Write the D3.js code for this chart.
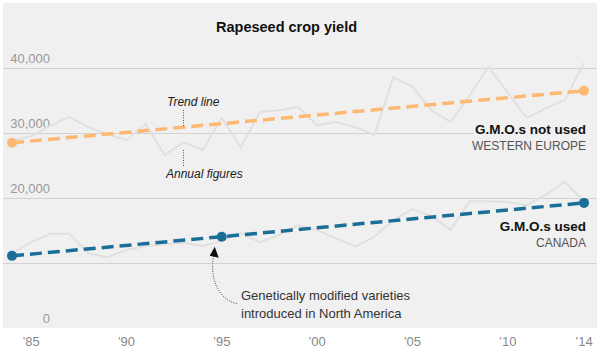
<!DOCTYPE html>
<html><head><meta charset="utf-8">
<script src="https://cdn.jsdelivr.net/npm/d3@7"></script>
<style>
html,body{margin:0;padding:0;background:#fff;}
svg{display:block;font-family:"Liberation Sans",Arial,sans-serif;}
</style></head>
<body><svg id="c" width="600" height="355"></svg>
<script>
const years = d3.range(1984, 2015);
const europeAnnual = [28800,29500,31100,32500,30900,29800,28900,31400,26600,28600,27400,32300,27800,33200,33500,34000,31200,31700,30900,29700,38600,37100,33500,31700,35800,40200,36200,32300,33800,35100,40800];
const canadaAnnual = [11500,13200,14500,14500,11500,10900,12000,12600,12900,13100,12600,13400,14600,13200,14300,15800,15100,13800,12500,14000,16600,18300,17200,15100,19500,19500,19400,18900,20500,22500,19500];
const europeTrendYears = [1984, 2014];
const europeTrend = [28500, 36500];
const canadaTrendYears = [1984, 1995, 2014];
const canadaTrend = [11100, 14050, 19250];
const yTicks = [0, 20000, 30000, 40000];
const yGrid = [10000, 20000, 30000, 40000];
const xTickYears = [1985, 1990, 1995, 2000, 2005, 2010, 2014];
const xTickLabels = ["’85","’90","’95","’00","’05","’10","’14"];

const svg = d3.select("#c");
const x = d3.scaleLinear().domain([1984, 2014]).range([12, 584]);
const y = d3.scaleLinear().domain([0, 40000]).range([328, 68]);

// panel
svg.append("rect").attr("x",3).attr("y",3).attr("width",594).attr("height",325).attr("fill","#f0f0f0");

// gridlines
svg.append("g").selectAll("line").data(yGrid).join("line")
  .attr("x1",3).attr("x2",597).attr("y1",d=>y(d)+0.5).attr("y2",d=>y(d)+0.5)
  .attr("stroke","#d2d2d2").attr("stroke-width",1);

// y labels
svg.append("g").selectAll("text").data(yTicks).join("text")
  .attr("x",50).attr("y",d=>y(d)-5).attr("text-anchor","end")
  .attr("font-size",13).attr("fill","#999")
  .text(d=>d3.format(",")(d));

// x labels
svg.append("g").selectAll("text").data(xTickYears).join("text")
  .attr("x",d=>x(d)).attr("y",346).attr("text-anchor","middle")
  .attr("font-size",13).attr("fill","#888")
  .text((d,i)=>xTickLabels[i]);

// annual lines
const line = d3.line().x(d=>x(d[0])).y(d=>y(d[1]));
[europeAnnual, canadaAnnual].forEach(arr=>{
  svg.append("path").datum(years.map((yr,i)=>[yr,arr[i]]))
    .attr("d",line).attr("fill","none").attr("stroke","#e0e0e0")
    .attr("stroke-width",2).attr("stroke-linejoin","miter");
});

// label background for Europe
svg.append("rect").attr("x",474).attr("y",119).attr("width",123).attr("height",36).attr("fill","#f0f0f0");

// trend lines
function trend(yrs, vals, color){
  const pts = yrs.map((yr,i)=>[yr, vals[i]]);
  svg.append("path").datum(pts).attr("d",line).attr("fill","none")
    .attr("stroke",color).attr("stroke-width",3.5).attr("stroke-dasharray","12,6");
  svg.append("g").selectAll("circle").data(pts).join("circle")
    .attr("cx",d=>x(d[0])).attr("cy",d=>y(d[1])).attr("r",5).attr("fill",color);
}
trend(europeTrendYears, europeTrend, "#fdb874");
trend(canadaTrendYears, canadaTrend, "#1b6e98");

// series labels
function seriesLabel(yb, title, sub){
  svg.append("text").attr("x",586).attr("y",yb).attr("text-anchor","end")
    .attr("font-size",13.5).attr("font-weight","bold").attr("fill","#111").text(title);
  svg.append("text").attr("x",586).attr("y",yb+16).attr("text-anchor","end")
    .attr("font-size",12).attr("fill","#555").text(sub);
}
seriesLabel(134, "G.M.O.s not used", "WESTERN EUROPE");
seriesLabel(231, "G.M.O.s used", "CANADA");

// title
svg.append("text").attr("x",216).attr("y",32).attr("font-size",14.5).attr("font-weight","bold")
  .attr("fill","#111").text("Rapeseed crop yield");

// trend / annual annotations
svg.append("text").attr("x",167).attr("y",106).attr("font-size",12).attr("font-style","italic").attr("fill","#222").text("Trend line");
svg.append("line").attr("x1",183.5).attr("x2",183.5).attr("y1",110).attr("y2",127)
  .attr("stroke","#555").attr("stroke-width",1).attr("stroke-dasharray","1,1.5");
svg.append("line").attr("x1",183.5).attr("x2",183.5).attr("y1",150).attr("y2",167)
  .attr("stroke","#555").attr("stroke-width",1).attr("stroke-dasharray","1,1.5");
svg.append("text").attr("x",166).attr("y",178).attr("font-size",12).attr("font-style","italic").attr("fill","#222").text("Annual figures");

// GM annotation
const px = x(1995), py = y(canadaTrend[1]);
svg.append("path")
  .attr("d",`M${px+15},${py+67} C${px-5},${py+62} ${px-12},${py+40} ${px-8},${py+18}`)
  .attr("fill","none").attr("stroke","#444").attr("stroke-width",1).attr("stroke-dasharray","1,1.5");
svg.append("path")
  .attr("d",`M${px-7},${py+10} L${px-3},${py+21} L${px-12},${py+19} Z`).attr("fill","#111");
const gm = svg.append("text").attr("x",241).attr("y",300).attr("font-size",13).attr("fill","#333");
gm.append("tspan").attr("x",241).attr("y",300).text("Genetically modified varieties");
gm.append("tspan").attr("x",241).attr("y",318).text("introduced in North America");
</script></body></html>
